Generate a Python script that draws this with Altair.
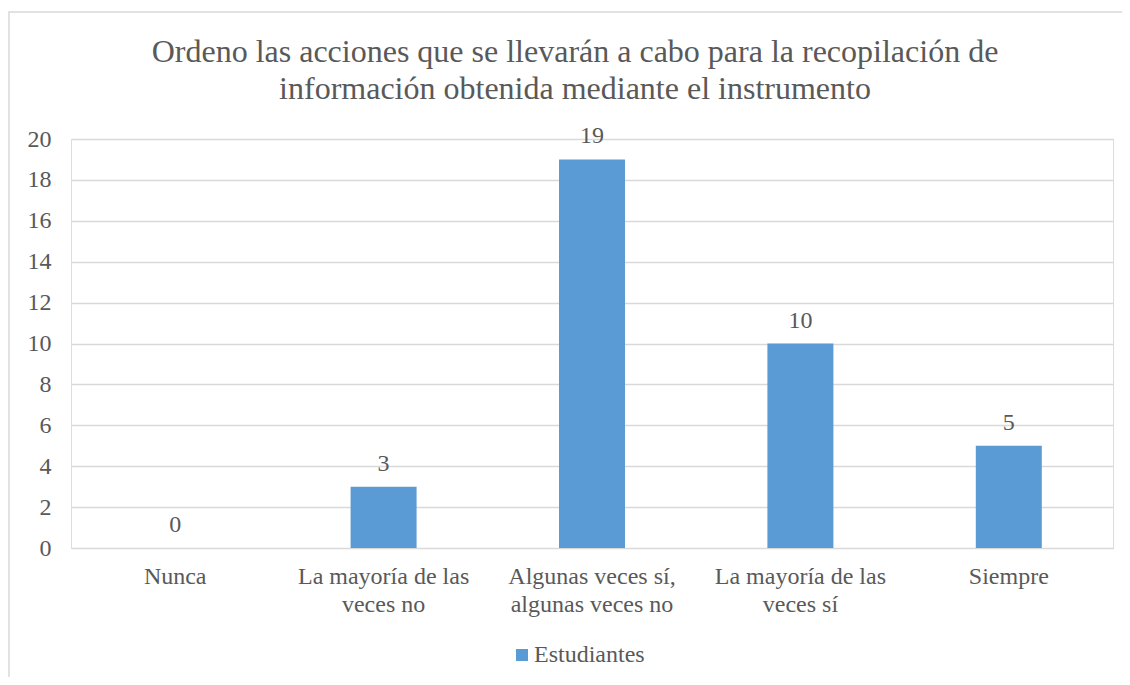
import altair as alt
import pandas as pd

categories = ["Nunca", "La mayoría de las veces no", "Algunas veces sí, algunas veces no",
              "La mayoría de las veces sí", "Siempre"]
values = [0, 3, 19, 10, 5]
series = ["Estudiantes"] * 5
title_lines = ["Ordeno las acciones que se llevarán a cabo para la recopilación de",
               "información obtenida mediante el instrumento"]

df = pd.DataFrame({"cat": categories, "val": values, "serie": series})

FONT = "Liberation Serif"
GRAY = "#595959"
W, H = 1042, 409

x = alt.X("cat:N", sort=categories, title=None,
          scale=alt.Scale(paddingInner=0.68, paddingOuter=0.34),
          axis=alt.Axis(labelAngle=0, labelFontSize=24, labelFont=FONT, labelColor=GRAY,
                        labelPadding=16, ticks=False, domain=False, labelLineHeight=28,
                        labelExpr="split(replace(replace(datum.label, 'las veces', 'las|veces'), 'sí, algunas', 'sí,|algunas'), '|')"))
y = alt.Y("val:Q", title=None,
          scale=alt.Scale(domain=[0, 20]),
          axis=alt.Axis(values=list(range(0, 21, 2)), labelFontSize=24, labelFont=FONT,
                        labelColor=GRAY, labelPadding=20, ticks=False, domain=False,
                        gridColor="#D9D9D9", gridWidth=1.5))

bars = alt.Chart(df).mark_bar(size=66).encode(
    x=x, y=y,
    color=alt.Color("serie:N", scale=alt.Scale(range=["#5B9BD5"]),
                    legend=alt.Legend(title=None, orient="none", legendX=439, legendY=504,
                                      symbolType="square", symbolSize=144, symbolStrokeWidth=0,
                                      labelFontSize=24, labelFont=FONT, labelColor=GRAY,
                                      labelOffset=0)),
)

labels = alt.Chart(df).mark_text(baseline="alphabetic", dy=-16, fontSize=24, font=FONT, color=GRAY).encode(
    x=alt.X("cat:N", sort=categories), y="val:Q", text="val:Q"
)

one = pd.DataFrame({"a": [0]})
title_layers = [
    alt.Chart(one).mark_text(baseline="alphabetic", align="center", fontSize=32, font=FONT,
                             color=GRAY, clip=False).encode(
        text=alt.value(line), x=alt.value(504), y=alt.value(ypos))
    for line, ypos in zip(title_lines, [-77, -40])
]

border = alt.Chart(one).mark_rect(
    fill=None, stroke="#D9D9D9", strokeWidth=1.5, clip=False
).encode(x=alt.value(-62), x2=alt.value(W + 40), y=alt.value(-127), y2=alt.value(H + 200))

chart = alt.layer(border, bars, labels, *title_layers).properties(
    width=W, height=H,
    autosize=alt.AutoSizeParams(type="none"),
    padding={"left": 63, "top": 131, "right": 9, "bottom": 129},
).configure_view(stroke=None).configure(background="white")

chart.save("out.html", embed_options={"renderer": "svg", "actions": False})
